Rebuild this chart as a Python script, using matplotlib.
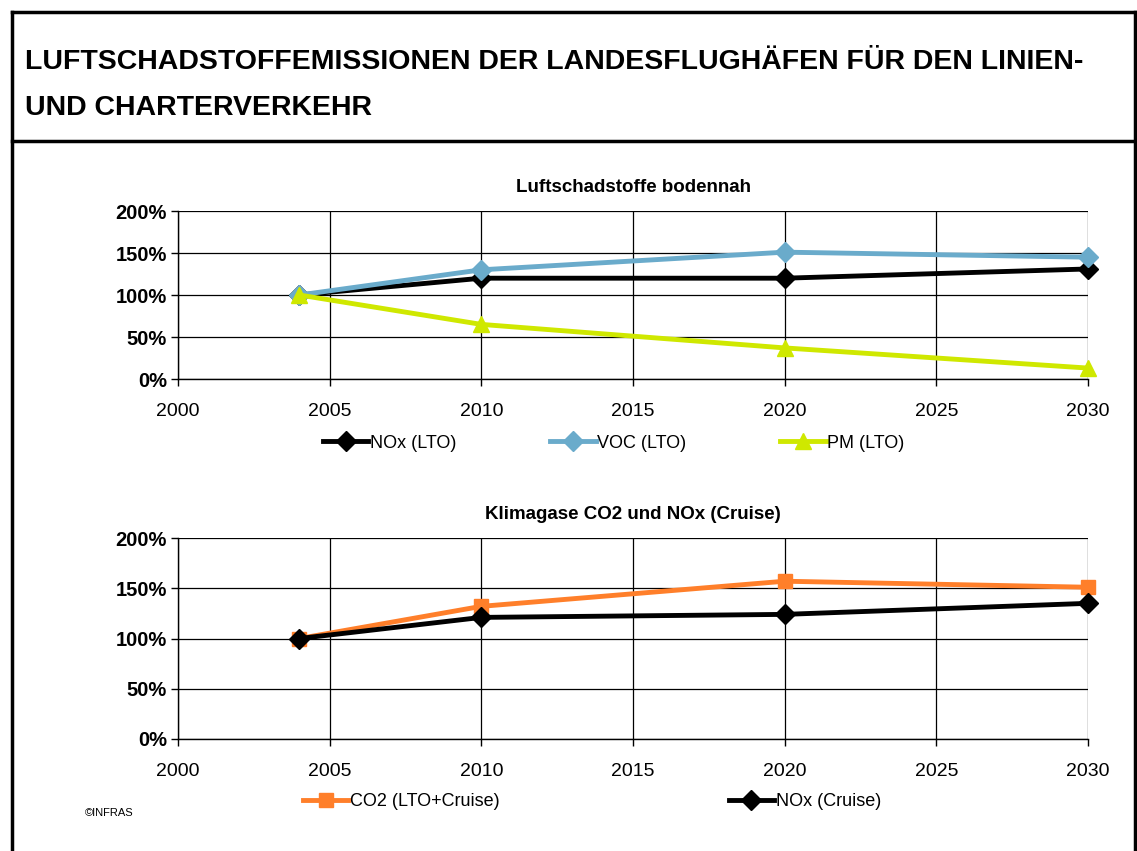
import numpy as np
import matplotlib.pyplot as plt
from matplotlib.lines import Line2D

plt.rcParams['font.family'] = ['Liberation Sans', 'DejaVu Sans']

# Data (index 2004 = 100%)
years = [2004, 2010, 2020, 2030]
nox_lto = [100, 120, 120, 131]
voc_lto = [100, 130, 151, 145]
pm_lto = [100, 65, 37, 13]
co2_total = [100, 132, 157, 151]
nox_cruise = [100, 121, 124, 135]

x_ticks = [2000, 2005, 2010, 2015, 2020, 2025, 2030]
y_ticks = [0, 50, 100, 150, 200]


def style_axis(ax, title):
    """Excel-like axis: black grid, bold percent labels."""
    ax.set_xlim(2000, 2030)
    ax.set_ylim(0, 200)
    ax.set_xticks(x_ticks)
    ax.set_yticks(y_ticks)
    ax.set_yticklabels([f"{v}%" for v in y_ticks], fontweight='bold', fontsize=14.5)
    ax.tick_params(axis='x', labelsize=14, length=5, width=1, direction='out', pad=12)
    ax.tick_params(axis='y', length=5, width=1, direction='out', pad=3)
    ax.grid(True, color='black', linewidth=0.9)
    for side in ['top', 'right']:
        ax.spines[side].set_visible(False)
    ax.spines['left'].set_linewidth(1.0)
    ax.spines['bottom'].set_linewidth(1.0)
    ax.set_title(title, fontsize=13.5, fontweight='bold', pad=14)
    for line in ax.get_lines():
        line.set_clip_on(False)  # keep end markers at 2030 whole


def run_chart():
    fig = plt.figure(figsize=(11.37, 8.51), dpi=100)

    # Frame around title and chart area
    fig.add_artist(Line2D([12 / 1137, 1135 / 1137], [1 - 12 / 851] * 2, color='black', lw=2.5))
    fig.add_artist(Line2D([12 / 1137, 1135 / 1137], [1 - 141 / 851] * 2, color='black', lw=2.5))
    fig.add_artist(Line2D([12 / 1137] * 2, [0, 1 - 12 / 851], color='black', lw=2.5))
    fig.add_artist(Line2D([1135 / 1137] * 2, [0, 1 - 12 / 851], color='black', lw=2.5))

    fig.text(25 / 1137, 1 - 62 / 851, "LUFTSCHADSTOFFEMISSIONEN DER LANDESFLUGHÄFEN FÜR DEN LINIEN-",
             fontsize=20.5, fontweight='bold', va='center')
    fig.text(25 / 1137, 1 - 108 / 851, "UND CHARTERVERKEHR",
             fontsize=20.5, fontweight='bold', va='center')

    # 1. Ground level pollutants
    ax1 = fig.add_axes([178 / 1137, 1 - 379 / 851, 910 / 1137, 168 / 851])
    ax1.plot(years, nox_lto, color='black', lw=3.5, marker='D', ms=10, label='NOx (LTO)')
    ax1.plot(years, voc_lto, color='#6AABCB', lw=3.5, marker='D', ms=10, label='VOC (LTO)')
    ax1.plot(years, pm_lto, color='#CFE800', lw=3.5, marker='^', ms=12, label='PM (LTO)')
    style_axis(ax1, "Luftschadstoffe bodennah")
    ax1.legend(loc='upper center', bbox_to_anchor=(0.479, -0.235), ncol=3, frameon=False,
               fontsize=13, columnspacing=5.2, handlelength=2.5, handletextpad=0.1)

    # 2. Climate gases
    ax2 = fig.add_axes([178 / 1137, 1 - 739 / 851, 910 / 1137, 201 / 851])
    ax2.plot(years, co2_total, color='#FF7F2A', lw=3.5, marker='s', ms=10, label='CO2 (LTO+Cruise)')
    ax2.plot(years, nox_cruise, color='black', lw=3.5, marker='D', ms=10, label='NOx (Cruise)')
    style_axis(ax2, "Klimagase CO2 und NOx (Cruise)")
    ax2.legend(loc='upper center', bbox_to_anchor=(0.455, -0.19), ncol=2, frameon=False,
               fontsize=13, columnspacing=12.7, handlelength=2.5, handletextpad=0.1)

    fig.text(85 / 1137, 1 - 813 / 851, "©INFRAS", fontsize=8, va='center')

    fig.savefig('out.png', dpi=100)


if __name__ == "__main__":
    run_chart()
